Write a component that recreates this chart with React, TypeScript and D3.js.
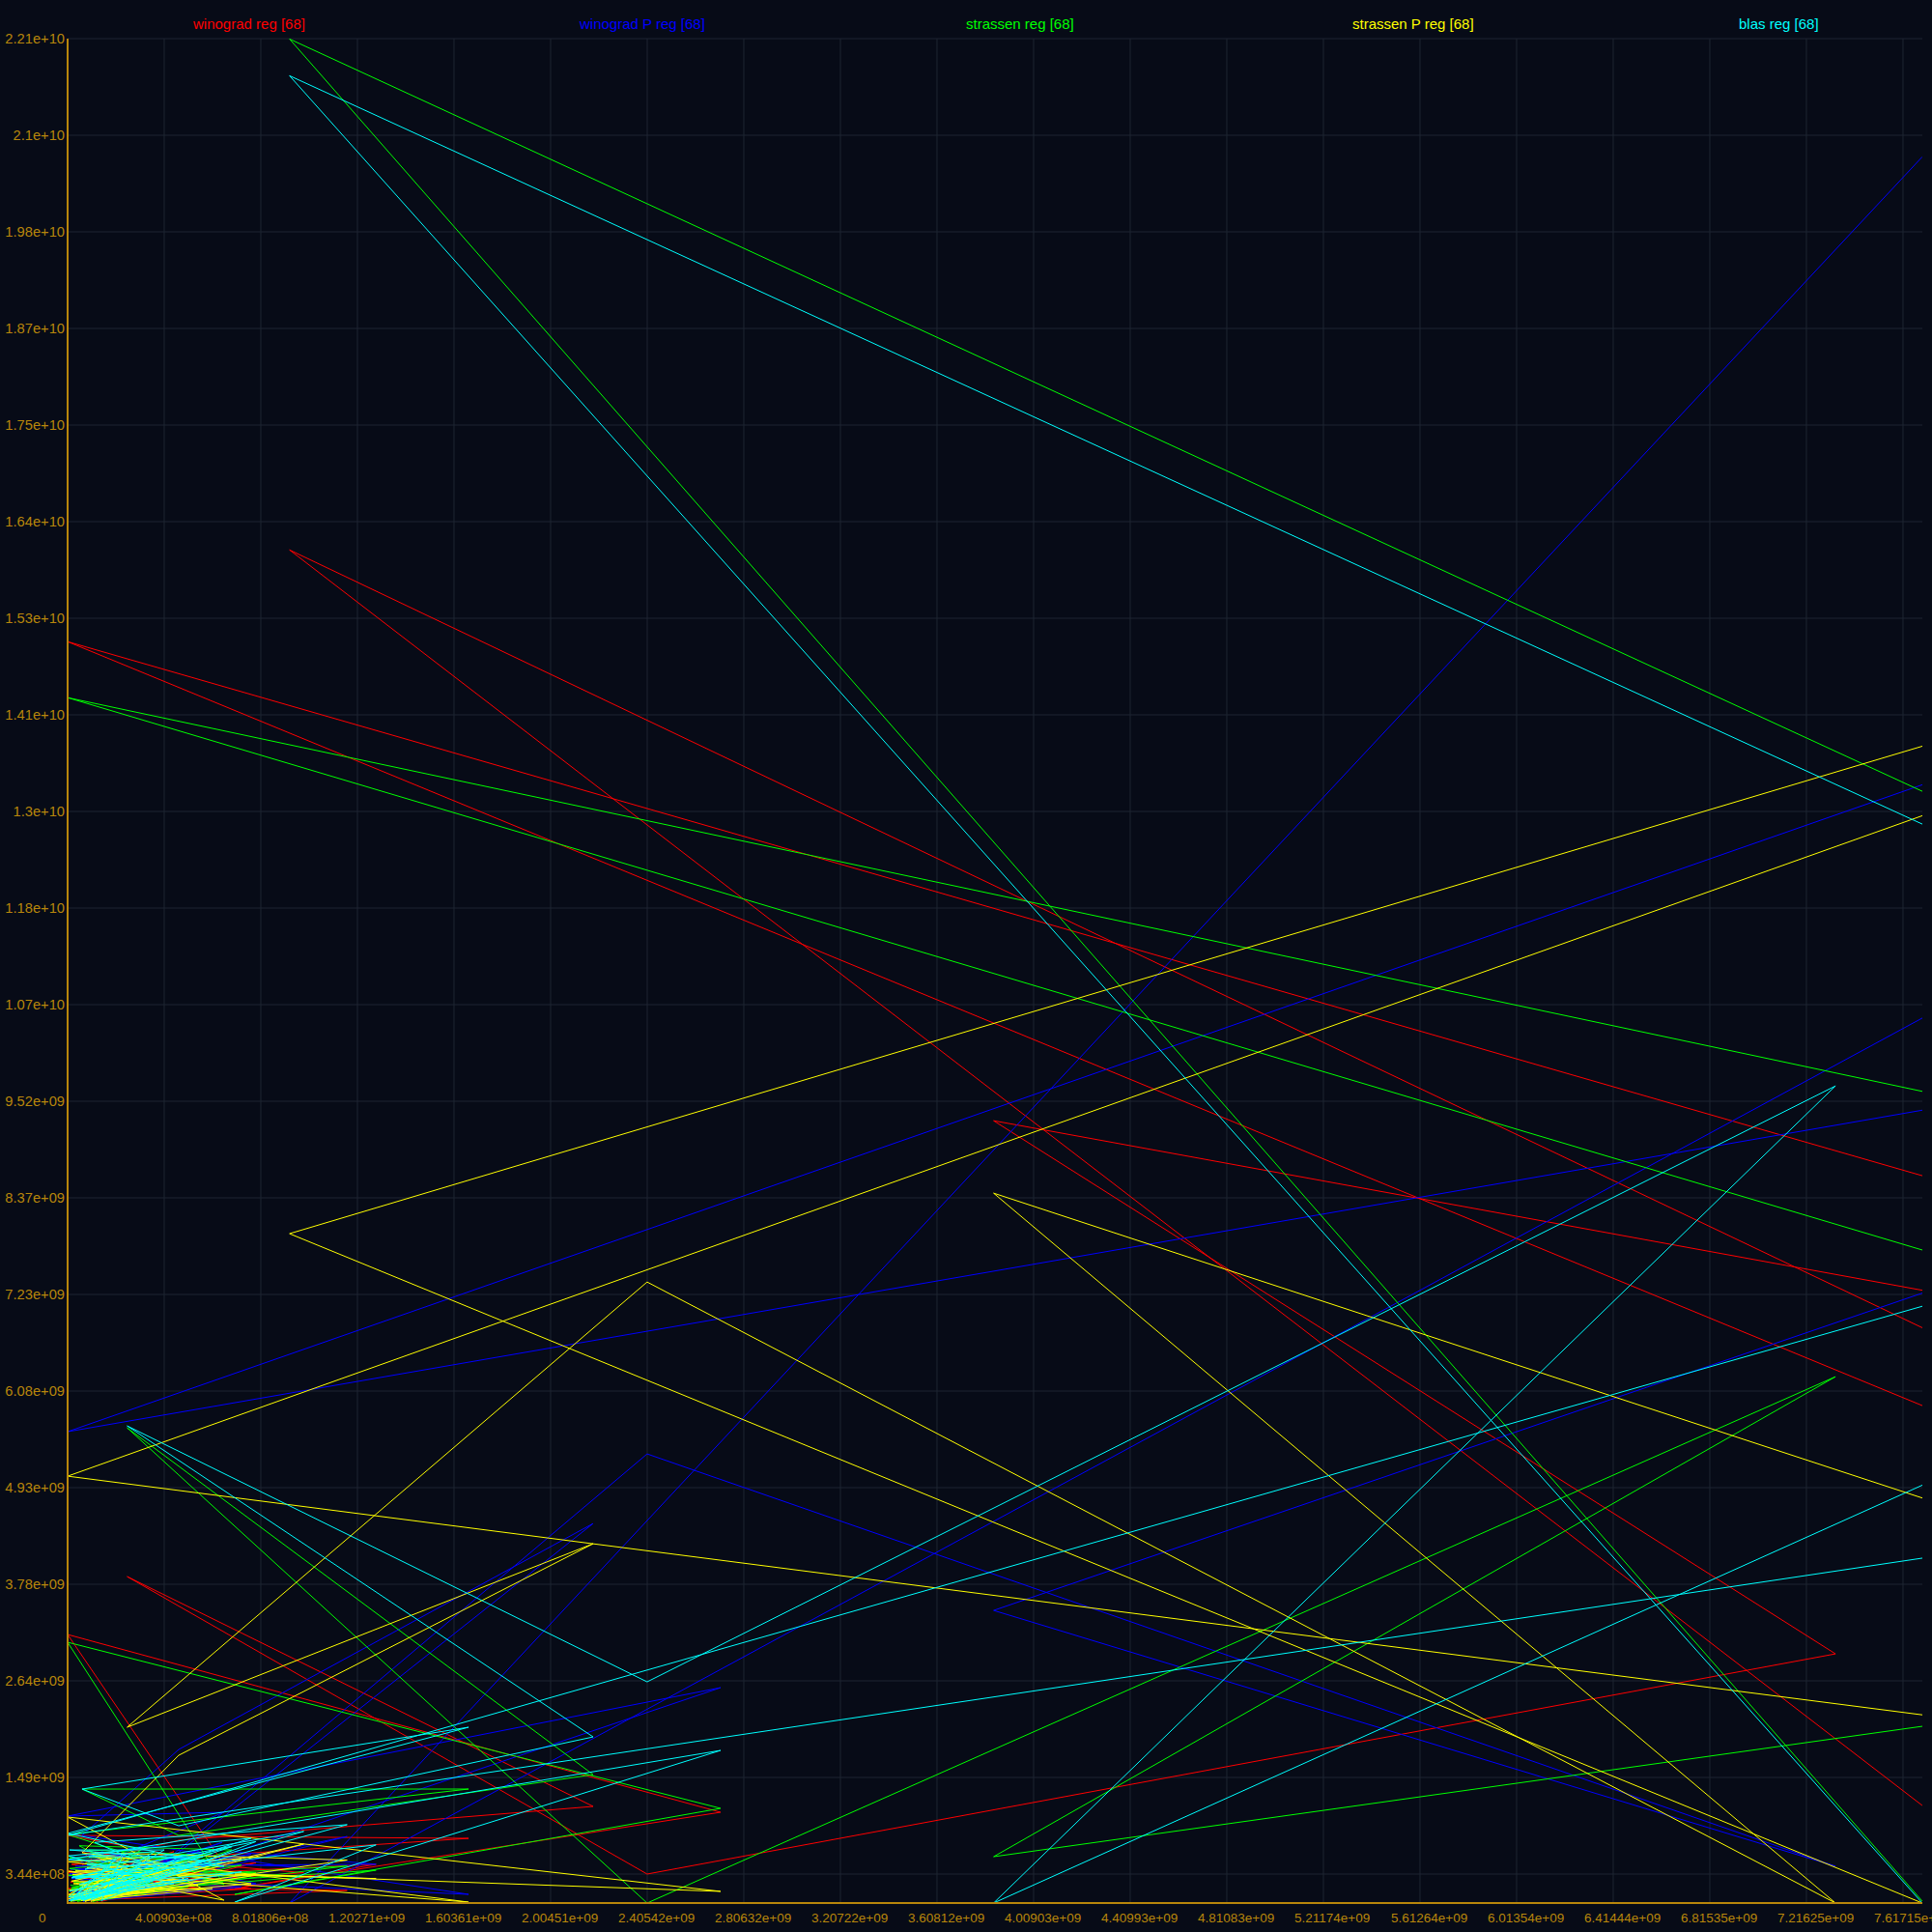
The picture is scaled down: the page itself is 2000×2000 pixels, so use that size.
import React from 'react';
import * as d3 from 'd3';

// x of every run, in units of 1e8 (shared by all five series)
const sizeE8 = [
  76.97, 9.21, 127.09, 0, 122.08, 38.43, 73.37, 24.05, 2.47, 21.81, 4.61, 0.6, 16.64, 0, 6.49, 0, 27.1, 6.94,
  12.8, 0.32, 5.61, 0.88, 3.61, 0.16, 7.22, 1.2, 2.81, 0.04, 9.8, 0.72, 2.0, 0.24, 5.01, 1.04, 4.01, 0.08,
  6.41, 0.56, 3.21, 0.2, 7.82, 1.4, 2.33, 0.04, 5.41, 0.8, 4.41, 0.12, 6.82, 0.48, 3.01, 0.28, 11.6, 1.12,
  3.81, 0.08, 6.01, 0.64, 2.61, 0.16, 4.81, 0.96, 3.41, 0.04, 7.62, 0.4, 1.8, 0.12,
];

// y of every run, in units of 1e8
const winogradReg = [
  11.58, 160.65, 0, 149.76, 49.19, 92.88, 29.58, 3.44, 38.76, 11.47, 7.45, 4.59, 7.68, 8.03, 4.59, 31.88, 10.78, 1.72,
  4.6, 2.9, 3.1, 0.4, 2.4, 4.6, 5.2, 0.2, 1.9, 1.7, 3.6, 5.8, 2.9, 0.5, 4.3, 3.1, 1.6, 0.3,
  3.9, 6.2, 2.2, 1.6, 4.8, 0.2, 3.0, 3.8, 1.8, 0.4, 6.1, 2.5, 2.7, 4.4, 3.4, 0.3, 1.5, 1.9,
  2.6, 0.5, 3.2, 5.1, 2.0, 0.2, 4.0, 2.7, 2.8, 3.6, 1.7, 0.4, 3.5, 1.2,
];
const winogradPReg = [
  207.32, 0, 182.78, 55.96, 116.5, 34.74, 4.36, 53.32, 1.15, 45.06, 18.23, 8.03, 1.03, 3.21, 10.78, 10.32, 25.57, 6.08,
  4.6, 4.4, 2.5, 0.5, 5.0, 2.9, 1.9, 0.3, 6.6, 5.2, 4.3, 0.6, 2.9, 0.2, 5.6, 3.7, 1.7, 0.4,
  7.2, 1.8, 3.8, 0.3, 2.3, 6.1, 1.3, 0.6, 6.0, 2.2, 3.5, 4.0, 5.2, 0.5, 1.1, 1.3, 7.9, 0.4,
  4.1, 3.5, 2.7, 0.2, 1.9, 5.5, 4.4, 0.6, 3.3, 0.3, 5.8, 2.9, 1.5, 0.4,
];
const strassenReg = [
  0.23, 221.31, 65.93, 143.11, 39.1, 5.5, 62.49, 0, 56.42, 15.25, 8.03, 13.53, 13.53, 8.14, 2.18, 30.96, 11.24, 1.03,
  3.9, 1.6, 5.7, 6.3, 2.3, 0.3, 4.5, 3.2, 6.1, 0.8, 3.1, 4.7, 4.7, 2.5, 1.9, 0.2, 5.3, 5.4,
  2.5, 0.6, 6.7, 0.3, 3.6, 3.9, 4.0, 1.5, 5.5, 0.9, 1.7, 0.2, 6.3, 6.8, 2.9, 0.4, 4.4, 2.7,
  2.1, 4.1, 5.9, 0.3, 3.4, 1.8, 4.9, 0.5, 2.5, 3.3, 3.2, 0.2, 1.8, 2.1,
];
const strassenPReg = [
  0, 79.47, 180.15, 50.68, 5.73, 84.28, 0, 73.73, 20.87, 42.66, 17.54, 5.96, 0.11, 3.78, 0.34, 10.21, 1.38, 3.44,
  2.9, 3.8, 4.3, 1.6, 1.5, 0.3, 5.3, 4.1, 2.7, 0.5, 7.0, 0.2, 1.7, 2.3, 3.9, 5.6, 2.5, 0.9,
  5.6, 0.3, 1.9, 3.4, 3.3, 0.5, 4.5, 1.0, 2.1, 4.2, 4.7, 0.7, 3.5, 2.2, 1.3, 0.4, 5.1, 6.0,
  3.1, 1.5, 1.7, 0.3, 4.1, 2.6, 2.7, 0.2, 5.5, 4.9, 2.3, 0.5, 3.7, 0.2,
];
const blasReg = [
  0, 216.95, 62.38, 8.03, 107.67, 0, 97.01, 26.26, 56.65, 19.72, 9.17, 13.53, 20.87, 8.26, 4.36, 5.16, 18.12, 0.11,
  6.9, 2.9, 5.5, 5.5, 6.1, 0.4, 3.7, 2.2, 2.5, 0.3, 8.5, 4.0, 5.3, 0.6, 2.9, 1.2, 6.3, 6.3,
  4.9, 0.4, 3.5, 3.1, 7.3, 0.3, 5.9, 0.7, 4.1, 4.6, 2.3, 0.3, 6.7, 2.2, 4.3, 0.5, 9.3, 7.2,
  3.9, 1.4, 5.3, 0.3, 3.1, 3.0, 5.7, 0.4, 2.7, 5.6, 7.7, 1.1, 4.5, 0.5,
];

const seriesNames = ['winograd reg', 'winograd P reg', 'strassen reg', 'strassen P reg', 'blas reg'];
const seriesColors = ['#ff0000', '#0000ff', '#00ff00', '#ffff00', '#00ffff'];
const seriesValues = [winogradReg, winogradPReg, strassenReg, strassenPReg, blasReg];

const xTickLabels = [
  '0', '4.00903e+08', '8.01806e+08', '1.20271e+09', '1.60361e+09', '2.00451e+09', '2.40542e+09',
  '2.80632e+09', '3.20722e+09', '3.60812e+09', '4.00903e+09', '4.40993e+09', '4.81083e+09',
  '5.21174e+09', '5.61264e+09', '6.01354e+09', '6.41444e+09', '6.81535e+09', '7.21625e+09', '7.61715e+09',
];
const yTickValues = [
  3.4407e8, 1.49097e9, 2.63787e9, 3.78477e9, 4.93167e9, 6.07857e9, 7.22547e9, 8.37237e9, 9.51927e9,
  1.066617e10, 1.181307e10, 1.295997e10, 1.410687e10, 1.525377e10, 1.640067e10, 1.754757e10,
  1.869447e10, 1.984137e10, 2.098827e10, 2.213517e10,
];

const xMax = 7.69734e9;
const yMax = 2.21352e10;

// %g-like formatting with a two digit exponent
function gfmt(v: number, p: number) {
  if (v === 0) return '0';
  const s = v.toPrecision(p);
  let [m, e] = s.split('e');
  if (m.includes('.')) m = m.replace(/0+$/, '').replace(/\.$/, '');
  if (!e) return m;
  let d = e.slice(1);
  if (d.length < 2) d = '0' + d;
  return m + 'e' + e[0] + d;
}

const W = 2000;
const H = 2000;
const left = 70, right = 1990, top = 40, bottom = 1970;
const axisColor = '#b8860b';
const gridColor = '#1e2532';
const font = '"Liberation Sans", Arial, sans-serif';

export default function App() {
  const x = d3.scaleLinear().domain([0, xMax]).range([left, right]);
  const y = d3.scaleLinear().domain([0, yMax]).range([bottom, top]);

  const line = d3.line<[number, number]>()
    .x((d) => x(d[0]))
    .y((d) => y(d[1]));

  const paths = seriesValues.map((vals) =>
    line(vals.map((v, i) => [sizeE8[i] * 1e8, v * 1e8] as [number, number])) || '');

  return (
    <svg width={W} height={H} style={{position: 'absolute', left: 0, top: 0}}>
      <defs>
        <clipPath id="plot">
          <rect x={left} y={top} width={right - left} height={bottom - top} />
        </clipPath>
      </defs>
      <rect x={0} y={0} width={W} height={H} fill="#070b17" />

      {yTickValues.map((v) => (
        <line key={'gy' + v} x1={left} x2={right} y1={y(v)} y2={y(v)} stroke={gridColor} strokeWidth={1} />
      ))}
      {xTickLabels.slice(1).map((t) => (
        <line key={'gx' + t} x1={x(+t)} x2={x(+t)} y1={top} y2={bottom} stroke={gridColor} strokeWidth={1} />
      ))}

      <g clipPath="url(#plot)">
        {paths.map((d, i) => (
          <path key={seriesNames[i]} d={d} fill="none" stroke={seriesColors[i]} strokeWidth={1} />
        ))}
      </g>

      <line x1={left} x2={left} y1={top} y2={bottom + 1} stroke={axisColor} strokeWidth={2} />
      <line x1={left} x2={right} y1={bottom} y2={bottom} stroke={axisColor} strokeWidth={2} />

      {yTickValues.map((v) => (
        <text key={'ly' + v} x={left - 3} y={y(v)} dy="0.35em" textAnchor="end"
          fill={axisColor} fontFamily={font} fontSize={14.7}>{gfmt(v, 3)}</text>
      ))}
      {xTickLabels.map((t) => (
        <text key={'lx' + t} x={x(+t) - 30} y={bottom + 20} textAnchor="start"
          fill={axisColor} fontFamily={font} fontSize={13.5}>{gfmt(+t, 6)}</text>
      ))}

      {seriesNames.map((name, i) => (
        <text key={'lg' + name} x={W * (i + 0.5) / 5} y={30} fill={seriesColors[i]}
          fontFamily={font} fontSize={15}>{`${name} [${seriesValues[i].length}]`}</text>
      ))}
    </svg>
  );
}
